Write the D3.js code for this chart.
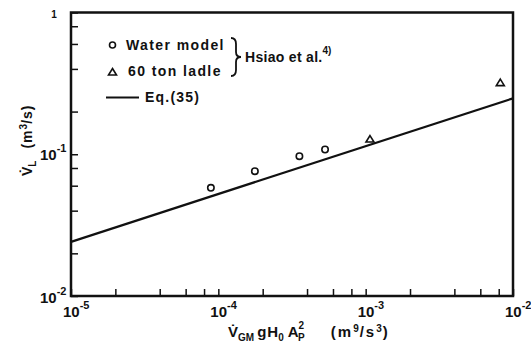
<!DOCTYPE html>
<html>
<head>
<meta charset="utf-8">
<script src="https://cdn.jsdelivr.net/npm/d3@7"></script>
<style>
  body { margin: 0; background: #fff; }
  svg text { font-family: "Liberation Sans", Arial, sans-serif; font-weight: bold; fill: #111; }
</style>
</head>
<body>
<script>
// data (log-log)
var waterX = [8.9e-5, 1.77e-4, 3.55e-4, 5.3e-4];
var waterY = [0.058, 0.076, 0.097, 0.108];
var ladleX = [1.07e-3, 8.2e-3];
var ladleY = [0.128, 0.32];
var eqX = [1e-5, 1e-2];
var eqY = [0.0241, 0.248];

var xDecades = [-5, -4, -3, -2];
var yDecades = [-2, -1, 0];
var minorMult = [2, 4, 6, 8];

var svg = d3.select("body").append("svg")
    .attr("width", 531)
    .attr("height", 349);

var x = d3.scaleLog().domain([1e-5, 1e-2]).range([71, 513]);
var y = d3.scaleLog().domain([1e-2, 1]).range([296, 12.5]);

// tick positions: decades + 2,4,6,8 multiples
var xTicks = [];
xDecades.forEach(function(e, i) {
  xTicks.push(Math.pow(10, e));
  if (i < xDecades.length - 1) minorMult.forEach(function(m) { xTicks.push(m * Math.pow(10, e)); });
});
var yTicks = [];
yDecades.forEach(function(e, i) {
  yTicks.push(Math.pow(10, e));
  if (i < yDecades.length - 1) minorMult.forEach(function(m) { yTicks.push(m * Math.pow(10, e)); });
});

svg.append("g")
  .attr("transform", "translate(0,296)")
  .call(d3.axisBottom(x).tickValues(xTicks).tickSize(-7).tickSizeOuter(0).tickFormat(""));
svg.append("g")
  .attr("transform", "translate(71,0)")
  .call(d3.axisLeft(y).tickValues(yTicks).tickSize(-7).tickSizeOuter(0).tickFormat(""));
svg.selectAll(".tick line").attr("stroke", "#111").attr("stroke-width", 1.5);
svg.selectAll(".domain").remove();

// frame
svg.append("rect")
  .attr("x", x(1e-5)).attr("y", y(1))
  .attr("width", x(1e-2) - x(1e-5))
  .attr("height", y(1e-2) - y(1))
  .attr("fill", "none")
  .attr("stroke", "#111")
  .attr("stroke-width", 2.5);

// x tick labels 10^n
xDecades.forEach(function(e) {
  var t = svg.append("text")
    .attr("x", x(Math.pow(10, e)) - 8)
    .attr("y", 317)
    .attr("font-size", 15);
  t.append("tspan").text("10");
  t.append("tspan").attr("dy", -8).attr("font-size", 11).text("-" + Math.abs(e));
});

// y tick labels
[-2, -1].forEach(function(e) {
  var t = svg.append("text")
    .attr("x", 40)
    .attr("y", e == -2 ? 303 : 160)
    .attr("font-size", 15);
  t.append("tspan").text("10");
  t.append("tspan").attr("dy", -8).attr("font-size", 11).text("-" + Math.abs(e));
});
svg.append("text")
  .attr("x", 54).attr("y", 18)
  .attr("text-anchor", "middle")
  .attr("font-size", 10)
  .text("1");

// Eq.(35) line
var line = d3.line()
  .x(function(d) { return x(d[0]); })
  .y(function(d) { return y(d[1]); });
svg.append("path")
  .datum(d3.zip(eqX, eqY))
  .attr("d", line)
  .attr("fill", "none")
  .attr("stroke", "#111")
  .attr("stroke-width", 2.2);

// water model points
svg.selectAll("circle.water")
  .data(d3.zip(waterX, waterY))
  .enter()
  .append("circle")
  .attr("class", "water")
  .attr("cx", function(d) { return x(d[0]); })
  .attr("cy", function(d) { return y(d[1]); })
  .attr("r", 3.2)
  .attr("fill", "none")
  .attr("stroke", "#111")
  .attr("stroke-width", 1.6);

var tri = "M0,-3.5L4,3L-4,3Z";
svg.selectAll("path.ladle")
  .data(d3.zip(ladleX, ladleY))
  .enter()
  .append("path")
  .attr("class", "ladle")
  .attr("d", tri)
  .attr("transform", function(d) { return "translate(" + x(d[0]) + "," + y(d[1]) + ")"; })
  .attr("fill", "none")
  .attr("stroke", "#111")
  .attr("stroke-width", 1.6);

// legend
var leg = svg.append("g");
leg.append("circle").attr("cx", 112.5).attr("cy", 45).attr("r", 3)
  .attr("fill", "none").attr("stroke", "#111").attr("stroke-width", 1.6);
leg.append("text").attr("x", 126).attr("y", 49.5).attr("font-size", 14)
  .attr("letter-spacing", 1.4).text("Water model");
leg.append("path").attr("d", tri).attr("transform", "translate(112.5,72)")
  .attr("fill", "none").attr("stroke", "#111").attr("stroke-width", 1.6);
leg.append("text").attr("x", 128).attr("y", 76).attr("font-size", 14)
  .attr("letter-spacing", 1.4).text("60 ton ladle");
leg.append("line").attr("x1", 106).attr("x2", 139).attr("y1", 97.5).attr("y2", 97.5)
  .attr("stroke", "#111").attr("stroke-width", 2);
leg.append("text").attr("x", 145).attr("y", 102).attr("font-size", 14)
  .attr("letter-spacing", 1.2).text("Eq.(35)");

// brace
leg.append("path")
  .attr("d", "M231,38 Q236,38 236,44 L236,52 Q236,57 241,57 Q236,57 236,62 L236,70 Q236,76 231,76")
  .attr("fill", "none").attr("stroke", "#111").attr("stroke-width", 1.8);
var h = leg.append("text").attr("x", 245).attr("y", 61.5).attr("font-size", 14)
  .attr("letter-spacing", 0.3);
h.append("tspan").text("Hsiao et al.");
h.append("tspan").attr("dy", -8).attr("font-size", 10).attr("letter-spacing", 0).text("4)");

// axis titles
var xt = svg.append("text").attr("x", 228).attr("y", 337).attr("font-size", 15);
xt.append("tspan").text("V\u0307");
xt.append("tspan").attr("dy", 4).attr("font-size", 10).text("GM");
xt.append("tspan").attr("dy", -4).attr("dx", 3).text("g");
xt.append("tspan").attr("dx", 1).text("H");
xt.append("tspan").attr("dy", 4).attr("font-size", 10).text("0");
xt.append("tspan").attr("dy", -4).attr("dx", 4).text("A");
xt.append("tspan").attr("dy", -8).attr("font-size", 10).text("2");
xt.append("tspan").attr("dy", 12).attr("dx", -6).attr("font-size", 10).text("P");
xt.append("tspan").attr("dy", -4).attr("dx", 26).attr("letter-spacing", 2).text("(m");
xt.append("tspan").attr("dy", -5).attr("font-size", 10).attr("letter-spacing", 1).text("9");
xt.append("tspan").attr("dy", 5).attr("letter-spacing", 2).text("/s");
xt.append("tspan").attr("dy", -5).attr("font-size", 10).attr("letter-spacing", 1).text("3");
xt.append("tspan").attr("dy", 5).text(")");

var yt = svg.append("text")
  .attr("transform", "translate(32,176) rotate(-90)")
  .attr("font-size", 14);
yt.append("tspan").text("V\u0307");
yt.append("tspan").attr("dy", 4).attr("font-size", 10).text("L");
yt.append("tspan").attr("dy", -4).attr("dx", 12).attr("letter-spacing", 1).text("(m");
yt.append("tspan").attr("dy", -5).attr("font-size", 10).text("3");
yt.append("tspan").attr("dy", 5).attr("letter-spacing", 1).text("/s)");
</script>
</body>
</html>
